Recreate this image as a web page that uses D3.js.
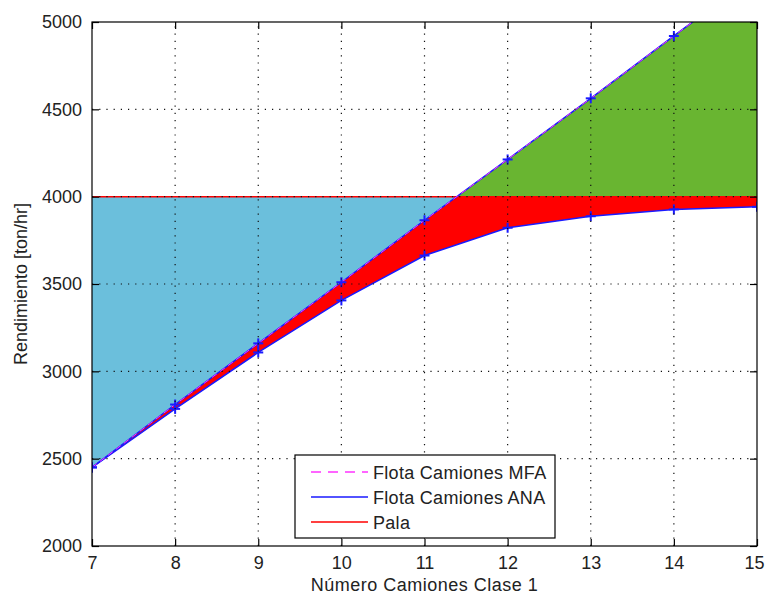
<!DOCTYPE html>
<html>
<head>
<meta charset="utf-8">
<script src="https://cdn.jsdelivr.net/npm/d3@7"></script>
<style>
  html, body { margin: 0; padding: 0; background: #fff; }
  svg { display: block; font-family: "Liberation Sans", Arial, Helvetica, sans-serif; }
</style>
</head>
<body>
<script>
// Número de camiones (clase 1)
const trucks = [7, 8, 9, 10, 11, 12, 13, 14, 15];
// Rendimiento de la flota [ton/hr]
const flotaMFA = [2450, 2810, 3160, 3510, 3865, 4213, 4563, 4920, 5275];
const flotaANA = [2450, 2785, 3108, 3406, 3663, 3822, 3888, 3927, 3942];
// Capacidad de la pala [ton/hr]
const pala = [4000, 4000, 4000, 4000, 4000, 4000, 4000, 4000, 4000];

const xTicks = [7, 8, 9, 10, 11, 12, 13, 14, 15];
const yTicks = [2000, 2500, 3000, 3500, 4000, 4500, 5000];

const legendLabels = ["Flota Camiones MFA", "Flota Camiones ANA", "Pala"];

const W = 765, H = 600;
const m = { left: 92, right: 757, top: 22, bottom: 546 };

const x = d3.scaleLinear().domain([7, 15]).range([m.left, m.right]);
const y = d3.scaleLinear().domain([2000, 5000]).range([m.bottom, m.top]);

const svg = d3.select("body").append("svg").attr("width", W).attr("height", H);
svg.append("rect").attr("width", W).attr("height", H).attr("fill", "#fff");

const rows = trucks.map((t, i) => ({ t, mfa: flotaMFA[i], ana: flotaANA[i], pala: pala[i] }));

const defs = svg.append("defs");
// plot window
defs.append("clipPath").attr("id", "plotClip")
  .append("rect").attr("x", m.left).attr("y", m.top)
  .attr("width", m.right - m.left).attr("height", m.bottom - m.top);
// region below the shovel capacity
defs.append("clipPath").attr("id", "belowPala")
  .append("rect").attr("x", m.left).attr("y", y(4000))
  .attr("width", m.right - m.left).attr("height", m.bottom - y(4000));
// region above the shovel capacity
defs.append("clipPath").attr("id", "abovePala")
  .append("rect").attr("x", m.left).attr("y", m.top)
  .attr("width", m.right - m.left).attr("height", y(4000) - m.top);

const plot = svg.append("g").attr("clip-path", "url(#plotClip)");

// blue: shovel capacity above the MFA fleet
plot.append("g").attr("clip-path", "url(#belowPala)")
  .append("path").datum(rows)
  .attr("fill", "#6bbfdc")
  .attr("d", d3.area().x(d => x(d.t)).y0(d => y(d.mfa)).y1(d => y(d.pala)));

// red: gap between the two fleet estimates, under the shovel capacity
plot.append("g").attr("clip-path", "url(#belowPala)")
  .append("path").datum(rows)
  .attr("fill", "#ff0000")
  .attr("d", d3.area().x(d => x(d.t)).y0(d => y(d.ana)).y1(d => y(d.mfa)));

// green: MFA fleet above the shovel capacity
plot.append("g").attr("clip-path", "url(#abovePala)")
  .append("path").datum(rows)
  .attr("fill", "#69b531")
  .attr("d", d3.area().x(d => x(d.t)).y0(d => y(d.pala)).y1(d => y(d.mfa)));

// dotted grid
const grid = svg.append("g").attr("stroke", "#111").attr("stroke-width", 1.2)
  .attr("stroke-dasharray", "1.2,6").attr("fill", "none");
xTicks.slice(1, -1).forEach(v => {
  grid.append("line").attr("x1", x(v)).attr("x2", x(v)).attr("y1", m.bottom).attr("y2", m.top);
});
yTicks.slice(1, -1).forEach(v => {
  grid.append("line").attr("x1", m.left).attr("x2", m.right).attr("y1", y(v)).attr("y2", y(v));
});

// series lines
const line = key => d3.line().x(d => x(d.t)).y(d => y(d[key]));
plot.append("path").datum(rows).attr("fill", "none").attr("stroke", "#ff0000")
  .attr("stroke-width", 1.5).attr("d", line("pala"));
plot.append("path").datum(rows).attr("fill", "none").attr("stroke", "#1a1aff")
  .attr("stroke-width", 1.5).attr("d", line("ana"));
plot.append("path").datum(rows).attr("fill", "none").attr("stroke", "#1a1aff")
  .attr("stroke-width", 1.5).attr("d", line("mfa"));
plot.append("path").datum(rows).attr("fill", "none").attr("stroke", "#ff33ff")
  .attr("stroke-width", 1).attr("stroke-dasharray", "6,4").attr("d", line("mfa"));

// + markers
const markers = plot.append("g").attr("stroke", "#1a1aff").attr("stroke-width", 2).attr("fill", "none");
["mfa", "ana"].forEach(key => {
  rows.forEach(d => {
    const cx = x(d.t), cy = y(d[key]);
    markers.append("line").attr("x1", cx - 5).attr("x2", cx + 5).attr("y1", cy).attr("y2", cy);
    markers.append("line").attr("x1", cx).attr("x2", cx).attr("y1", cy - 5).attr("y2", cy + 5);
  });
});

// axes box with inward ticks on all sides
const axisG = svg.append("g");
const tickLen = 7;
const axB = d3.axisBottom(x).tickValues(xTicks).tickSize(-tickLen).tickPadding(10).tickFormat(d3.format("d"));
const axT = d3.axisTop(x).tickValues(xTicks).tickSize(-tickLen).tickFormat("");
const axL = d3.axisLeft(y).tickValues(yTicks).tickSize(-tickLen).tickPadding(10).tickFormat(d3.format("d"));
const axR = d3.axisRight(y).tickValues(yTicks).tickSize(-tickLen).tickFormat("");

function styleAxis(g) {
  g.select(".domain").attr("stroke", "#000").attr("stroke-width", 1.2);
  g.selectAll(".tick line").attr("stroke", "#000").attr("stroke-width", 1.2);
  g.selectAll(".tick text").attr("fill", "#222").style("font-size", "18px")
    .style("font-family", "'Liberation Sans', Arial, sans-serif");
}
const bottomAxis = axisG.append("g").attr("transform", `translate(0,${m.bottom})`).call(axB).call(styleAxis);
// keep the last label inside the page edge
bottomAxis.selectAll(".tick text").filter(d => d === 15).attr("dx", -3);
axisG.append("g").attr("transform", `translate(0,${m.top})`).call(axT).call(styleAxis);
axisG.append("g").attr("transform", `translate(${m.left},0)`).call(axL).call(styleAxis);
axisG.append("g").attr("transform", `translate(${m.right},0)`).call(axR).call(styleAxis);
axisG.selectAll(".domain").attr("d", null);
axisG.append("rect").attr("x", m.left).attr("y", m.top)
  .attr("width", m.right - m.left).attr("height", m.bottom - m.top)
  .attr("fill", "none").attr("stroke", "#000").attr("stroke-width", 1.2);

// axis titles
svg.append("text").attr("x", (m.left + m.right) / 2).attr("y", 591)
  .attr("text-anchor", "middle").attr("fill", "#222").style("font-size", "18px")
  .style("letter-spacing", "0.5px")
  .text("Número Camiones Clase 1");
svg.append("text").attr("transform", `translate(27,${(m.top + m.bottom) / 2}) rotate(-90)`)
  .attr("text-anchor", "middle").attr("fill", "#222").style("font-size", "18px")
  .text("Rendimiento [ton/hr]");

// legend
const lg = svg.append("g").attr("transform", "translate(295,455)");
lg.append("rect").attr("width", 260).attr("height", 83)
  .attr("fill", "#fff").attr("stroke", "#000").attr("stroke-width", 1.2);
const legendStyles = [
  { color: "#ff33ff", dash: "10,7" },
  { color: "#1a1aff", dash: null },
  { color: "#ff0000", dash: null }
];
legendLabels.forEach((label, i) => {
  const ly = 17 + i * 25;
  lg.append("line").attr("x1", 16).attr("x2", 73).attr("y1", ly).attr("y2", ly)
    .attr("stroke", legendStyles[i].color).attr("stroke-width", 1.5)
    .attr("stroke-dasharray", legendStyles[i].dash);
  lg.append("text").attr("x", 78).attr("y", ly + 6.5).attr("fill", "#222")
    .style("font-size", "18px").style("letter-spacing", "0.3px").text(label);
});
</script>
</body>
</html>
